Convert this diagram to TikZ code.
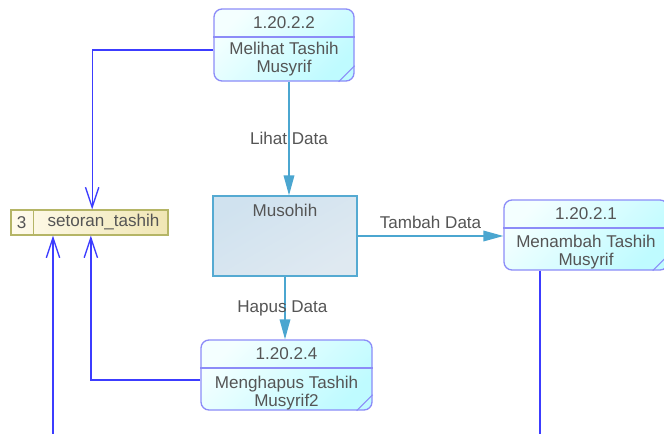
\documentclass[tikz,border=0pt]{standalone}
\usepackage{fontspec}
\setmainfont{Liberation Sans}
\usepackage{xcolor}
\usetikzlibrary{arrows.meta,positioning}

\definecolor{teks}{HTML}{555555}
\definecolor{garisProses}{HTML}{8C8CF8}
\definecolor{isiProsesA}{HTML}{F4FFFF}
\definecolor{isiProsesB}{HTML}{BFFBFF}
\definecolor{garisSimpan}{HTML}{B5B566}
\definecolor{isiSimpanA}{HTML}{FFFBEC}
\definecolor{isiSimpanB}{HTML}{F0E6B4}
\definecolor{garisEntitas}{HTML}{55AAD2}
\definecolor{isiEntitasA}{HTML}{D0E2EF}
\definecolor{isiEntitasB}{HTML}{DFE9F1}
\definecolor{garisData}{HTML}{4BA6D0}
\definecolor{garisBiru}{HTML}{3C3CFF}

\begin{document}
\begin{tikzpicture}[x=0.75pt,y=-0.75pt,
    every node/.style={text=teks, font=\fontsize{12.8}{13.5}\selectfont},
    proses/.style={draw=garisProses, line width=1pt, rounded corners=6pt,
        top color=isiProsesA, bottom color=isiProsesB, shading angle=45,
        inner sep=0pt},
    simpan/.style={draw=garisSimpan, line width=1pt, left color=isiSimpanA,
        right color=isiSimpanB, inner sep=0pt,
        minimum width=117.75pt, minimum height=18.75pt},
    entitas/.style={draw=garisEntitas, line width=1pt, top color=isiEntitasA,
        bottom color=isiEntitasB, shading angle=30, inner sep=0pt,
        minimum width=108pt, minimum height=60pt},
    alirData/.style={draw=garisData, line width=1pt,
        -{Triangle[length=15pt,width=8pt]}},
    alirSimpan/.style={draw=garisBiru, line width=1pt,
        -{Straight Barb[length=15pt,width=10pt]}},
    garis/.style={draw=garisBiru, line width=1pt},
    lbl/.style={inner sep=1pt}]
    \useasboundingbox (0,0) rectangle (664,433);
    \fill[white] (0,0) rectangle (664,433);

    % proses
    \node[proses, minimum width=105pt, minimum height=54pt] (p2) at (284,45) {};
    \node[proses, minimum width=123pt, minimum height=52.5pt] (p1) at (586,235) {};
    \node[proses, minimum width=128.25pt, minimum height=52.5pt] (p4) at (286.5,375) {};
    \foreach \p in {p2,p1,p4}{
        \draw[garisProses, line width=1pt] ([yshift=-21.5pt]\p.north west) -- ([yshift=-21.5pt]\p.north east);
        \draw[garisProses, line width=0.8pt] ([xshift=-12pt]\p.south east) -- ([yshift=12pt]\p.south east);
    }
    \node (p2-no) at ([yshift=-10.5pt]p2.north) {1.20.2.2};
    \node[align=center] (p2-nama) at ([yshift=-38pt]p2.north) {Melihat Tashih\\Musyrif};
    \node (p1-no) at ([yshift=-10.5pt]p1.north) {1.20.2.1};
    \node[align=center] (p1-nama) at ([yshift=-39.5pt]p1.north) {Menambah Tashih\\Musyrif};
    \node (p4-no) at ([yshift=-10.5pt]p4.north) {1.20.2.4};
    \node[align=center] (p4-nama) at ([yshift=-40pt]p4.north) {Menghapus Tashih\\Musyrif2};

    % data store dan entitas
    \node[simpan] (simpan) at (89.5,222.5) {};
    \draw[garisSimpan, line width=1pt] ([xshift=17.25pt]simpan.north west) -- ([xshift=17.25pt]simpan.south west);
    \node (simpan-no) at ([xshift=8.5pt]simpan.west) {3};
    \node (simpan-nama) at ([xshift=10.5pt]simpan.center) {setoran\_tashih};
    \node[entitas] (ent) at (285,236) {};
    \node (ent-nama) at ([yshift=-11pt]ent.north) {Musohih};

    % alur
    \draw[alirSimpan] ([yshift=-3.75pt]p2.west) -| ([xshift=2pt]simpan.north);
    \draw[alirSimpan] ([yshift=-3.75pt]p4.west) -| ([xshift=1pt]simpan.south);
    \coordinate (luar1) at (53,440);
    \draw[alirSimpan] (luar1) -- (luar1 |- simpan.south);
    \coordinate (luar2) at (540,440);
    \draw[garis] (p1.south -| luar2) -- (luar2);
    \draw[alirData] ([xshift=3.75pt]p2.south) -- ([xshift=3.75pt]p2.south |- ent.north)
        node[lbl, midway] {Lihat Data};
    \draw[alirData] (ent.east) -- (ent.east -| p1.west)
        node[lbl, midway, yshift=10.5pt] {Tambah Data};
    \draw[alirData] (ent.south) -- (ent.south |- p4.north)
        node[lbl, midway, xshift=-2pt] {Hapus Data};
\end{tikzpicture}
\end{document}
